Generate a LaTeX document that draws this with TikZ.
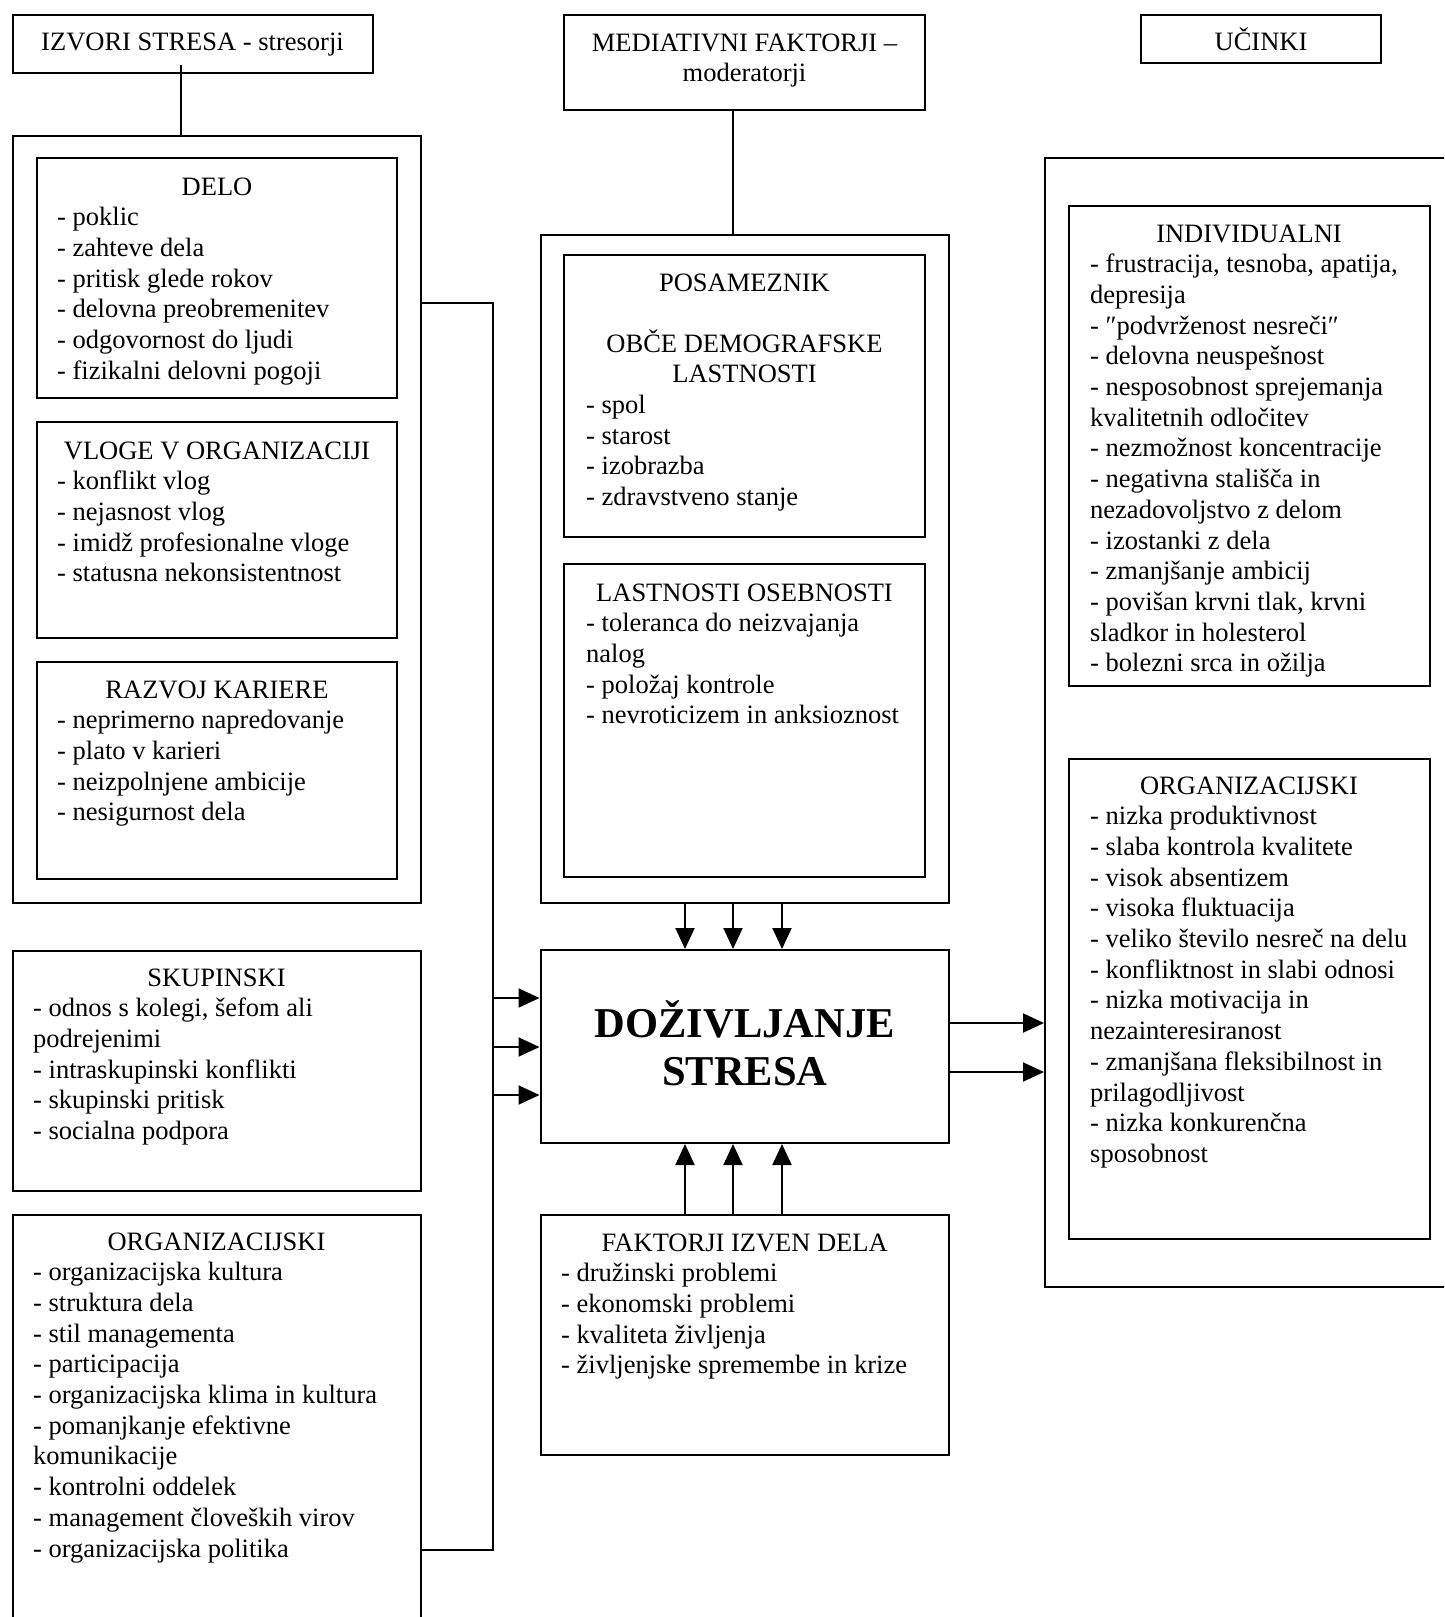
\documentclass[tikz,border=0pt]{standalone}
\usepackage{fontspec}
\setmainfont{Liberation Serif}
\usetikzlibrary{arrows.meta}
\newcommand\fs{\fontsize{26.5pt}{30.7pt}\selectfont}
\newcommand\fbig{\fontsize{42.5pt}{48pt}\selectfont\bfseries}
\begin{document}
\begin{tikzpicture}[x=1pt,y=-1pt,
 bx/.style={draw, line width=2pt, rectangle, inner sep=0pt},
 ttl/.style={inner sep=0pt, anchor=base, font=\fs, align=center},
 lst/.style={inner sep=0pt, anchor=base west, font=\fs, align=left},
 ln/.style={line width=2pt},
 arr/.style={line width=2pt, -{Triangle[length=21pt,width=19pt]}}]
\useasboundingbox (0,0) rectangle (1444,1617);
\clip (0,0) rectangle (1444,1617);
\fill[white] (0,0) rectangle (1444,1617);

% ---------- boxes ----------
\node[bx, minimum width=360pt, minimum height=58pt] (izvori) at (192.5,43.5) {};
\node[bx, minimum width=408pt, minimum height=767pt] (leftouter) at (216.5,519) {};
\node[bx, minimum width=360pt, minimum height=240pt] (delo) at (217,278) {};
\node[bx, minimum width=360pt, minimum height=216pt] (vloge) at (217,530) {};
\node[bx, minimum width=360pt, minimum height=217pt] (razvoj) at (217,770.5) {};
\node[bx, minimum width=408pt, minimum height=240pt] (skup) at (216.5,1071) {};
\node[bx, minimum width=408pt, minimum height=435pt] (orgL) at (216.5,1432.5) {};

\node[bx, minimum width=361pt, minimum height=95.5pt] (medtop) at (744.5,62.25) {};
\node[bx, minimum width=408.5pt, minimum height=667.5pt] (medouter) at (744.75,568.75) {};
\node[bx, minimum width=361pt, minimum height=282pt] (posam) at (744.5,396) {};
\node[bx, minimum width=361pt, minimum height=313pt] (lastos) at (744.5,720.5) {};
\node[bx, minimum width=408.5pt, minimum height=193pt] (ctr) at (744.75,1046.5) {};
\node[bx, minimum width=408.5pt, minimum height=240pt] (faktorji) at (744.75,1335) {};

\node[bx, minimum width=240pt, minimum height=48.5pt] (ucinki) at (1261,38.75) {};
\node[bx, minimum width=425pt, minimum height=1129pt] (rightouter) at (1257.5,722.5) {};
\node[bx, minimum width=361pt, minimum height=480pt] (indiv) at (1249,446) {};
\node[bx, minimum width=361pt, minimum height=480pt] (orgR) at (1249,999) {};

% ---------- texts (multi-line nodes anchored at the baseline of their last line) ----------
\node[ttl] (izvoriT) at (192.5,50) {IZVORI STRESA - stresorji};
\node[ttl] (medT) at (744.5,81.7) {MEDIATIVNI FAKTORJI –\\moderatorji};
\node[ttl] (ucT) at (1261,50) {UČINKI};

\node[ttl] (deloT) at (217,195) {DELO};
\node[lst] (deloL) at (57,379.2) {- poklic\\- zahteve dela\\- pritisk glede rokov\\- delovna preobremenitev\\- odgovornost do ljudi\\- fizikalni delovni pogoji};

\node[ttl] (vlogeT) at (217,459) {VLOGE V ORGANIZACIJI};
\node[lst] (vlogeL) at (57,581.8) {- konflikt vlog\\- nejasnost vlog\\- imidž profesionalne vloge\\- statusna nekonsistentnost};

\node[ttl] (razvojT) at (217,698) {RAZVOJ KARIERE};
\node[lst] (razvojL) at (57,820.8) {- neprimerno napredovanje\\- plato v karieri\\- neizpolnjene ambicije\\- nesigurnost dela};

\node[ttl] (skupT) at (216.5,986) {SKUPINSKI};
\node[lst] (skupL) at (33,1139.5) {- odnos s kolegi, šefom ali\\podrejenimi\\- intraskupinski konflikti\\- skupinski pritisk\\- socialna podpora};

\node[ttl] (orgLT) at (216.5,1250) {ORGANIZACIJSKI};
\node[lst] (orgLL) at (33,1557) {- organizacijska kultura\\- struktura dela\\- stil managementa\\- participacija\\- organizacijska klima in kultura\\- pomanjkanje efektivne\\komunikacije\\- kontrolni oddelek\\- management človeških virov\\- organizacijska politika};

\node[ttl] (posamT) at (744.5,291) {POSAMEZNIK};
\node[ttl] (posamT2) at (744.5,382.7) {OBČE DEMOGRAFSKE\\LASTNOSTI};
\node[lst] (posamL) at (586,505.5) {- spol\\- starost\\- izobrazba\\- zdravstveno stanje};

\node[ttl] (lastosT) at (744.5,601) {LASTNOSTI OSEBNOSTI};
\node[lst] (lastosL) at (586,723.8) {- toleranca do neizvajanja\\nalog\\- položaj kontrole\\- nevroticizem in anksioznost};

\node[ttl, font=\fbig] (ctrT) at (744.75,1085) {DOŽIVLJANJE\\STRESA};

\node[ttl] (faktT) at (744.75,1251) {FAKTORJI IZVEN DELA};
\node[lst] (faktL) at (561,1373.8) {- družinski problemi\\- ekonomski problemi\\- kvaliteta življenja\\- življenjske spremembe in krize};

\node[ttl] (indivT) at (1249,242) {INDIVIDUALNI};
\node[lst] (indivL) at (1090,671.8) {- frustracija, tesnoba, apatija,\\depresija\\- ″podvrženost nesreči″\\- delovna neuspešnost\\- nesposobnost sprejemanja\\kvalitetnih odločitev\\- nezmožnost koncentracije\\- negativna stališča in\\nezadovoljstvo z delom\\- izostanki z dela\\- zmanjšanje ambicij\\- povišan krvni tlak, krvni\\sladkor in holesterol\\- bolezni srca in ožilja};

\node[ttl] (orgRT) at (1249,794) {ORGANIZACIJSKI};
\node[lst] (orgRL) at (1090,1162.4) {- nizka produktivnost\\- slaba kontrola kvalitete\\- visok absentizem\\- visoka fluktuacija\\- veliko število nesreč na delu\\- konfliktnost in slabi odnosi\\- nizka motivacija in\\nezainteresiranost\\- zmanjšana fleksibilnost in\\prilagodljivost\\- nizka konkurenčna\\sposobnost};

% ---------- connectors ----------
\coordinate (izv) at (181,65);
\draw[ln] (izv) -- (izv |- leftouter.north);
\coordinate (med) at (733,110);
\draw[ln] (med |- medtop.south) -- (med |- medouter.north);

\coordinate (busT) at (493,303);
\coordinate (busB) at (493,1550);
\draw[ln] (leftouter.east |- busT) -- (busT) -- (busB) -- (orgL.east |- busB);

\coordinate (l1) at (493,998);
\coordinate (l2) at (493,1047);
\coordinate (l3) at (493,1095);
\draw[arr] (l1) -- (l1 -| ctr.west);
\draw[arr] (l2) -- (l2 -| ctr.west);
\draw[arr] (l3) -- (l3 -| ctr.west);

\coordinate (v1) at (685,0);
\coordinate (v2) at (733,0);
\coordinate (v3) at (782,0);
\draw[arr] (v1 |- medouter.south) -- (v1 |- ctr.north);
\draw[arr] (v2 |- medouter.south) -- (v2 |- ctr.north);
\draw[arr] (v3 |- medouter.south) -- (v3 |- ctr.north);
\draw[arr] (v1 |- faktorji.north) -- (v1 |- ctr.south);
\draw[arr] (v2 |- faktorji.north) -- (v2 |- ctr.south);
\draw[arr] (v3 |- faktorji.north) -- (v3 |- ctr.south);

\coordinate (r1) at (0,1023);
\coordinate (r2) at (0,1072);
\draw[arr] (ctr.east |- r1) -- (rightouter.west |- r1);
\draw[arr] (ctr.east |- r2) -- (rightouter.west |- r2);
\end{tikzpicture}
\end{document}
